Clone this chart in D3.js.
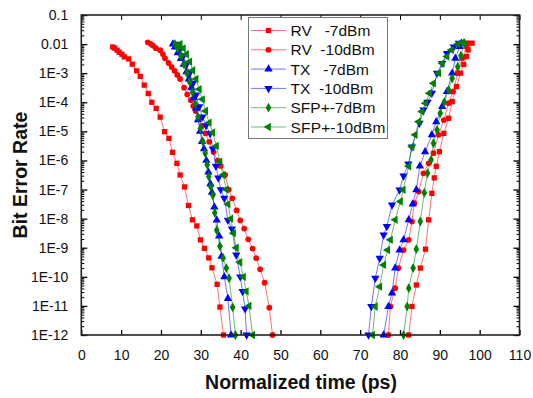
<!DOCTYPE html>
<html><head><meta charset="utf-8">
<script src="https://cdn.jsdelivr.net/npm/d3@7"></script>
<style>
html,body{margin:0;padding:0;background:#fff;}
svg{display:block;font-family:"Liberation Sans",Arial,sans-serif;}
</style></head>
<body><svg id="c" width="533" height="398"></svg>
<script>
// ---- data (x in ps, BER as log10 exponent) ----
const seriesNames = ["RV   -7dBm","RV  -10dBm","TX   -7dBm","TX  -10dBm","SFP+-7dBm","SFP+-10dBm"];
const seriesColors = ["#ff0000","#ff0000","#0000ff","#0000ff","#008000","#008000"];
const seriesSymbols = ["square","circle","triUp","triDown","diamond","triLeft"];

const rv7LeftX  = [7.9,8.4,9.0,9.5,10.2,10.8,11.9,12.8,13.9,14.8,15.8,16.8,17.7,18.8,19.8,20.9,22.0,22.9,24.0,24.8,25.9,26.9,27.9,29.0,29.9,30.9,32.0,32.8,34.1,34.8,35.7];
const rv7LeftE  = [-2.10,-2.14,-2.21,-2.28,-2.35,-2.44,-2.51,-2.69,-2.92,-3.11,-3.41,-3.70,-4.00,-4.21,-4.51,-5.01,-5.24,-5.72,-6.10,-6.50,-6.91,-7.55,-8.04,-8.25,-8.73,-9.02,-9.35,-9.69,-10.26,-11.04,-12.0];
const rv7RightX = [98.1,97.1,96.7,96.0,95.2,94.2,93.1,92.2,91.0,89.9,89.1,88.6,88.0,87.2,86.4,85.1,84.1,83.0,82.2];
const rv7RightE = [-1.97,-2.2,-2.43,-2.7,-3.0,-3.46,-3.98,-4.55,-5.07,-5.7,-6.2,-6.6,-7.13,-8.04,-9.05,-9.7,-10.28,-11.02,-12.0];

const rv10LeftX  = [16.7,17.4,18.0,18.7,19.8,20.5,21.0,21.9,22.7,23.4,24.1,24.8,25.8,26.6,27.5,28.1,28.7,29.6,30.3,31.2,32.1,33.2,34.2,35.0,36.1,37.0,37.9,39.0,39.9,40.9,41.9,43.0,43.9,44.9,46.0,47.2,48.0];
const rv10LeftE  = [-1.94,-1.99,-2.05,-2.14,-2.21,-2.35,-2.49,-2.65,-2.79,-2.92,-3.06,-3.20,-3.50,-3.73,-3.93,-4.13,-4.30,-4.54,-4.81,-5.07,-5.36,-5.71,-6.01,-6.19,-6.50,-7.00,-7.30,-7.72,-8.06,-8.34,-8.71,-9.03,-9.36,-9.74,-10.20,-11.06,-12.0];
const rv10RightX = [97.0,96.7,95.6,94.5,93.3,92.2,91.0,89.7,88.4,87.2,85.9,84.7,83.6,83.0,82.2,80.9,79.6,78.8,77.6,77.1];
const rv10RightE = [-1.97,-2.09,-2.49,-3.0,-3.63,-4.03,-4.61,-5.12,-5.75,-6.1,-6.44,-7.07,-7.47,-8.1,-8.73,-9.08,-9.7,-10.39,-11.02,-12.0];

const tx7LeftX  = [23.0,23.5,24.2,25.0,25.7,26.4,27.0,27.6,28.2,28.8,29.3,29.8,30.3,30.8,31.4,31.9,32.4,32.8,33.4,34.0,34.6,35.2,35.9,36.8,37.6];
const tx7LeftE  = [-2.0,-2.1,-2.3,-2.5,-2.7,-2.95,-3.2,-3.5,-3.85,-4.2,-4.6,-5.0,-5.35,-5.6,-6.0,-6.4,-6.8,-7.1,-7.6,-8.05,-8.6,-9.3,-10.0,-10.75,-12.0];
const tx7RightX = [95.4,95.0,93.9,93.1,91.8,90.6,89.1,88.0,86.3,85.0,84.1,83.2,82.2,80.9,79.9,78.8,78.0,77.1,75.9];
const tx7RightE = [-1.97,-2.09,-2.49,-3.0,-3.63,-4.15,-4.67,-5.12,-5.7,-6.19,-7.01,-7.5,-8.04,-8.73,-9.08,-9.7,-10.56,-11.02,-12.0];

const tx10LeftX  = [24.0,24.8,25.6,26.4,27.2,28.0,28.8,29.6,30.4,31.3,32.3,33.0,33.8,34.4,35.0,35.9,36.8,37.8,38.9,39.9,40.5,41.1,41.5];
const tx10LeftE  = [-2.0,-2.15,-2.4,-2.7,-3.0,-3.35,-3.75,-4.15,-4.5,-4.8,-5.07,-5.6,-6.2,-6.6,-7.0,-7.3,-8.05,-8.35,-9.25,-10.0,-10.5,-11.1,-12.0];
const tx10RightX = [94.8,93.5,91.8,90.6,89.3,88.0,86.9,85.9,84.9,83.0,82.1,80.9,79.9,78.0,76.7,75.9,74.9,73.8,72.8,72.1];
const tx10RightE = [-1.97,-2.1,-2.32,-2.66,-3.0,-3.69,-4.0,-4.26,-4.72,-5.53,-6.12,-6.53,-7.01,-7.53,-8.27,-8.56,-9.36,-10.05,-11.02,-12.0];

const sfp7LeftX  = [23.5,24.2,25.0,25.8,26.5,27.2,27.9,28.6,29.3,29.9,30.5,31.1,31.6,32.0,32.5,33.0,33.5,34.0,34.8,35.6,36.4,37.1,38.0,38.7];
const sfp7LeftE  = [-2.0,-2.15,-2.4,-2.7,-3.0,-3.3,-3.65,-4.05,-4.5,-4.9,-5.35,-5.75,-6.15,-6.55,-6.9,-7.2,-7.8,-8.4,-8.95,-9.35,-9.7,-10.05,-11.05,-12.0];
const sfp7RightX = [96.2,95.3,94.5,93.1,92.2,91.1,90.1,89.3,88.4,87.8,86.9,86.1,85.1,84.1,83.3,82.2,81.8,80.9];
const sfp7RightE = [-1.97,-2.4,-2.78,-3.18,-3.58,-4.0,-4.38,-4.95,-5.41,-5.98,-6.44,-7.11,-8.1,-9.05,-9.7,-10.39,-11.02,-12.0];

const sfp10LeftX  = [24.8,25.6,26.4,27.2,28.0,28.8,29.6,30.4,31.2,32.1,33.0,33.9,34.8,35.6,36.4,36.8,37.5,38.2,38.9,39.8,40.7,41.4,42.1,43.0];
const sfp10LeftE  = [-2.0,-2.15,-2.35,-2.6,-2.9,-3.2,-3.55,-3.9,-4.3,-4.7,-5.04,-5.5,-6.04,-6.5,-7.0,-7.5,-8.0,-8.5,-9.0,-9.5,-10.0,-10.5,-11.0,-12.0];
const sfp10RightX = [95.6,94.5,92.9,91.8,90.6,89.7,88.4,87.4,86.4,85.5,84.7,83.8,83.0,82.2,80.8,80.1,78.8,77.6,76.9,75.9,74.9,73.8,73.1];
const sfp10RightE = [-1.95,-2.0,-2.2,-2.43,-2.66,-3.0,-3.35,-3.69,-4.03,-4.32,-4.67,-5.12,-5.53,-6.2,-7.01,-7.41,-8.04,-8.73,-9.08,-9.59,-10.34,-11.02,-12.0];

const xTicks = [0,10,20,30,40,50,60,70,80,90,100,110];
const yTickExps = [-1,-2,-3,-4,-5,-6,-7,-8,-9,-10,-11,-12];
const yTickLabels = ["0.1","0.01","1E-3","1E-4","1E-5","1E-6","1E-7","1E-8","1E-9","1E-10","1E-11","1E-12"];
const xTitle = "Normalized time (ps)";
const yTitle = "Bit Error Rate";

// ---- build ----
const toPts = (xs, es) => xs.map((v,i)=>({x:v, y:Math.pow(10, es[i])}));
const series = [
  [rv7LeftX,rv7LeftE,rv7RightX,rv7RightE],
  [rv10LeftX,rv10LeftE,rv10RightX,rv10RightE],
  [tx7LeftX,tx7LeftE,tx7RightX,tx7RightE],
  [tx10LeftX,tx10LeftE,tx10RightX,tx10RightE],
  [sfp7LeftX,sfp7LeftE,sfp7RightX,sfp7RightE],
  [sfp10LeftX,sfp10LeftE,sfp10RightX,sfp10RightE]
].map((a,i)=>({name:seriesNames[i], color:seriesColors[i], sym:seriesSymbols[i],
  branches:[toPts(a[0],a[1]), toPts(a[2],a[3])]}));

const L=81.3, R=519.5, T=15, B=335;
const svg = d3.select("#c");
const x = d3.scaleLinear().domain([0,110]).range([L,R]);
const y = d3.scaleLog().domain([1e-12,1e-1]).range([B,T]);

const symGen = {
  square: {t:d3.symbolSquare, s:28, r:0},
  circle: {t:d3.symbolCircle, s:26, r:0},
  triUp: {t:d3.symbolTriangle, s:30, r:0},
  triDown: {t:d3.symbolTriangle, s:30, r:180},
  diamond: {t:d3.symbolDiamond, s:28, r:0},
  triLeft: {t:d3.symbolTriangle, s:30, r:-90}
};
const symPath = k => d3.symbol().type(symGen[k].t).size(symGen[k].s)();

const line = d3.line().x(d=>x(d.x)).y(d=>y(d.y));
const plot = svg.append("g");
series.forEach(s=>{
  s.branches.forEach(br=>{
    plot.append("path").attr("d", line(br)).attr("fill","none")
      .attr("stroke", s.color).attr("stroke-opacity",0.55).attr("stroke-width",1);
    plot.selectAll(null).data(br).enter().append("path")
      .attr("d", symPath(s.sym))
      .attr("transform", d=>`translate(${x(d.x)},${y(d.y)}) rotate(${symGen[s.sym].r})`)
      .attr("fill", s.color);
  });
});

// axes
const yMajor = yTickExps.map(e=>Math.pow(10,e));
const yMinor = [];
for(let e=-12;e<-1;e++) for(let m=2;m<=9;m++) yMinor.push(m*Math.pow(10,e));
const fmtY = d => yTickLabels[yMajor.findIndex(v=>Math.abs(Math.log10(v)-Math.log10(d))<1e-6)];

const axFont = g => g.selectAll("text").attr("font-size",14).attr("fill","#111")
  .attr("font-family","Liberation Sans, Arial, sans-serif");

svg.append("g").attr("transform",`translate(${L},0)`)
  .call(d3.axisLeft(y).tickValues(yMajor).tickFormat(fmtY).tickSizeInner(-6).tickSizeOuter(0).tickPadding(13))
  .call(g=>g.select(".domain").remove()).call(axFont)
  .call(g=>g.selectAll("line").attr("stroke-width",1.3));
svg.append("g").attr("transform",`translate(${L},0)`)
  .call(d3.axisLeft(y).tickValues(yMinor).tickFormat("").tickSizeInner(-3).tickSizeOuter(0))
  .call(g=>g.select(".domain").remove());
svg.append("g").attr("transform",`translate(${R},0)`)
  .call(d3.axisRight(y).tickValues(yMajor).tickFormat("").tickSizeInner(-6).tickSizeOuter(0))
  .call(g=>g.select(".domain").remove())
  .call(g=>g.selectAll("line").attr("stroke-width",1.3));
svg.append("g").attr("transform",`translate(${R},0)`)
  .call(d3.axisRight(y).tickValues(yMinor).tickFormat("").tickSizeInner(-3).tickSizeOuter(0))
  .call(g=>g.select(".domain").remove());

svg.append("g").attr("transform",`translate(0,${B})`)
  .call(d3.axisBottom(x).tickValues(xTicks).tickSizeInner(-5).tickSizeOuter(0).tickPadding(15))
  .call(g=>g.select(".domain").remove()).call(axFont)
  .call(g=>g.selectAll("line").attr("stroke-width",1.3));
svg.append("g").attr("transform",`translate(0,${T})`)
  .call(d3.axisTop(x).tickValues(xTicks).tickFormat("").tickSizeInner(-5).tickSizeOuter(0))
  .call(g=>g.select(".domain").remove());

svg.append("rect").attr("x",L).attr("y",T).attr("width",R-L).attr("height",B-T)
  .attr("fill","none").attr("stroke","#222").attr("stroke-width",1.6);

// titles
svg.append("text").attr("x",301).attr("y",389).attr("text-anchor","middle")
  .attr("font-size",19.5).attr("font-weight","bold").attr("fill","#111").text(xTitle);
svg.append("text").attr("transform",`translate(27,${(T+B)/2}) rotate(-90)`).attr("text-anchor","middle")
  .attr("font-size",19.5).attr("font-weight","bold").attr("fill","#111").text(yTitle);

// legend
const lg = svg.append("g");
lg.append("rect").attr("x",248.5).attr("y",17.5).attr("width",139).attr("height",121)
  .attr("fill","#fff").attr("stroke","#777").attr("stroke-width",1);
series.forEach((s,i)=>{
  const cy = 30.5 + i*19.3;
  lg.append("line").attr("x1",251).attr("x2",286).attr("y1",cy).attr("y2",cy)
    .attr("stroke",s.color).attr("stroke-opacity",0.55).attr("stroke-width",1);
  lg.append("path").attr("d",symPath(s.sym))
    .attr("transform",`translate(268.5,${cy}) rotate(${symGen[s.sym].r})`).attr("fill",s.color);
  lg.append("text").attr("x",290.5).attr("y",cy+5.5).attr("font-size",15.5).attr("fill","#111")
    .attr("textLength", s.name==="SFP+-10dBm" ? 95 : null)
    .style("white-space","pre").text(s.name);
});
</script></body></html>
